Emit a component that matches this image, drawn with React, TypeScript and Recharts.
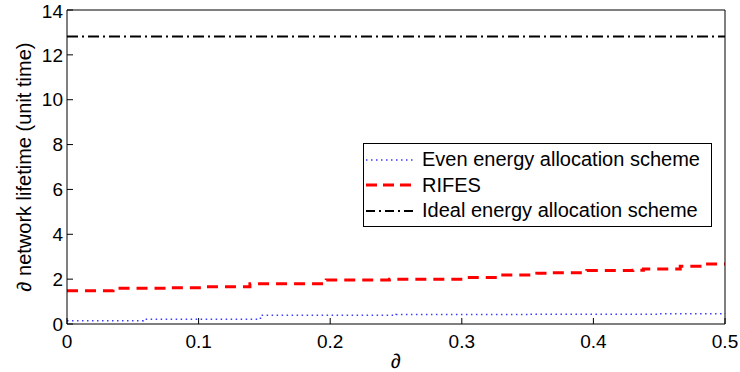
import React from 'react';
import { LineChart, Line, XAxis, YAxis, Legend } from 'recharts';

const xTicks = [0, 0.1, 0.2, 0.3, 0.4, 0.5];
const yTicks = [0, 2, 4, 6, 8, 10, 12, 14];

const evenX = [0, 0.058, 0.147, 0.25, 0.35, 0.45, 0.5];
const evenY = [0.15, 0.21, 0.39, 0.42, 0.44, 0.46, 0.47];

const rifesX = [0, 0.035, 0.075, 0.106, 0.139, 0.197, 0.245, 0.304, 0.329, 0.357, 0.365, 0.395, 0.43, 0.438, 0.466, 0.481, 0.5];
const rifesY = [1.48, 1.59, 1.62, 1.66, 1.79, 1.96, 2.0, 2.07, 2.18, 2.26, 2.29, 2.38, 2.4, 2.45, 2.58, 2.68, 2.68];

const idealX = [0, 0.5];
const idealY = [12.82, 12.82];

const seriesNames = ['Even energy allocation scheme', 'RIFES', 'Ideal energy allocation scheme'];

const evenData = evenX.map((x, i) => ({ x, y: evenY[i] }));
const rifesData = rifesX.map((x, i) => ({ x, y: rifesY[i] }));
const idealData = idealX.map((x, i) => ({ x, y: idealY[i] }));

const FONT = '"Liberation Sans", Arial, sans-serif';

const legendStyles = [
  { stroke: '#3a3aff', dash: '1.5 3.5', width: 1.5 },
  { stroke: '#ff0000', dash: '11 6', width: 3 },
  { stroke: '#000000', dash: '9 4 2 4', width: 2 },
];

const LegendBox = () => (
  <div
    style={{
      border: '1px solid #000',
      background: '#fff',
      width: 347,
      height: 82,
      boxSizing: 'content-box',
      fontFamily: FONT,
      fontSize: 20,
      color: '#000',
    }}
  >
    {seriesNames.map((n, i) => (
      <div key={n} style={{ height: 25.5, display: 'flex', alignItems: 'center', marginTop: i === 0 ? 3 : 0, whiteSpace: 'nowrap' }}>
        <svg width={56} height={10} style={{ marginLeft: 2, flexShrink: 0 }}>
          <line
            x1={0}
            x2={48}
            y1={5}
            y2={5}
            stroke={legendStyles[i].stroke}
            strokeWidth={legendStyles[i].width}
            strokeDasharray={legendStyles[i].dash}
          />
        </svg>
        <span>{n}</span>
      </div>
    ))}
  </div>
);

export default function App() {
  return (
    <div style={{ position: 'relative', width: 740, height: 372 }}>
      <style>{`body{margin:0;}`}</style>
      <LineChart width={740} height={372} margin={{ top: 0, right: 0, bottom: 0, left: 0 }}>
        <XAxis
          xAxisId="b"
          dataKey="x"
          type="number"
          domain={[0, 0.5]}
          ticks={xTicks}
          orientation="bottom"
          height={48}
          tickSize={-6}
          tickMargin={17}
          stroke="#000"
          tick={{ fill: '#000', fontSize: 19, fontFamily: FONT }}
          allowDuplicatedCategory={false}
          label={{ value: '∂', position: 'insideBottom', offset: 4, fill: '#000', fontSize: 20, fontFamily: FONT }}
        />
        <XAxis
          xAxisId="t"
          dataKey="x"
          type="number"
          domain={[0, 0.5]}
          ticks={xTicks}
          orientation="top"
          height={10}
          tickSize={-6}
          stroke="#000"
          tickFormatter={() => ''}
          allowDuplicatedCategory={false}
        />
        <YAxis
          yAxisId="l"
          type="number"
          domain={[0, 14]}
          ticks={yTicks}
          orientation="left"
          width={67}
          tickSize={-6}
          tickMargin={10}
          stroke="#000"
          tick={{ fill: '#000', fontSize: 19, fontFamily: FONT }}
          label={{
            value: '∂ network lifetime (unit time)',
            angle: -90,
            position: 'insideLeft',
            offset: 24,
            style: { textAnchor: 'middle' },
            fill: '#000',
            fontSize: 20,
            fontFamily: FONT,
          }}
        />
        <YAxis
          yAxisId="r"
          type="number"
          domain={[0, 14]}
          ticks={yTicks}
          orientation="right"
          width={15}
          tickSize={-6}
          stroke="#000"
          tickFormatter={() => ''}
        />
        <Legend
          layout="vertical"
          align="center"
          verticalAlign="middle"
          content={<LegendBox />}
          wrapperStyle={{ position: 'absolute', left: 363, top: 143, width: 349, height: 84 }}
        />
        <Line
          xAxisId="b"
          yAxisId="l"
          data={evenData}
          dataKey="y"
          name={seriesNames[0]}
          type="stepAfter"
          stroke="#3a3aff"
          strokeWidth={1.5}
          strokeDasharray="1.5 3.5"
          dot={false}
          isAnimationActive={false}
        />
        <Line
          xAxisId="b"
          yAxisId="l"
          data={rifesData}
          dataKey="y"
          name={seriesNames[1]}
          type="stepAfter"
          stroke="#ff0000"
          strokeWidth={3}
          strokeDasharray="11 7"
          dot={false}
          isAnimationActive={false}
        />
        <Line
          xAxisId="b"
          yAxisId="l"
          data={idealData}
          dataKey="y"
          name={seriesNames[2]}
          type="linear"
          stroke="#000"
          strokeWidth={2}
          strokeDasharray="11 4 2 4"
          dot={false}
          isAnimationActive={false}
        />
      </LineChart>
    </div>
  );
}
